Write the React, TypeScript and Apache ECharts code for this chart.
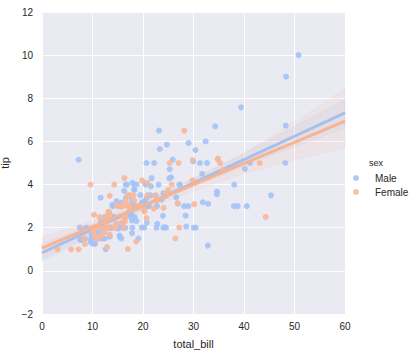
import React, { useEffect, useRef } from "react";
import * as echarts from "echarts";

// tips dataset: [total_bill, tip]
const maleData: number[][] = [
  [10.34,1.66],[21.01,3.5],[23.68,3.31],[25.29,4.71],[8.77,2.0],[26.88,3.12],[15.04,1.96],[14.78,3.23],[10.27,1.71],[15.42,1.57],
  [18.43,3.0],[21.58,3.92],[16.29,3.71],[20.65,3.35],[17.92,4.08],[39.42,7.58],[19.82,3.18],[17.81,2.34],[13.37,2.0],[12.69,2.0],
  [21.7,4.3],[9.55,1.45],[18.35,2.5],[17.78,3.27],[24.06,3.6],[16.31,2.0],[18.69,2.31],[31.27,5.0],[16.04,2.24],[17.46,2.54],
  [13.94,3.06],[9.68,1.32],[30.4,5.6],[18.29,3.0],[22.23,5.0],[32.4,6.0],[28.55,2.05],[18.04,3.0],[12.54,2.5],[9.94,1.56],
  [25.56,4.34],[19.49,3.51],[38.01,3.0],[11.24,1.76],[48.27,6.73],[20.29,3.21],[13.81,2.0],[11.02,1.98],[18.29,3.76],[17.59,2.64],
  [20.08,3.15],[20.23,2.01],[15.01,2.09],[12.02,1.97],[10.51,1.25],[17.92,3.08],[27.2,4.0],[22.76,3.0],[17.29,2.71],[19.44,3.0],
  [16.66,3.4],[32.68,5.0],[15.98,2.03],[13.03,2.0],[18.28,4.0],[24.71,5.85],[21.16,3.0],[28.97,3.0],[22.49,3.5],[40.17,4.73],
  [27.28,4.0],[12.03,1.5],[21.01,3.0],[12.46,1.5],[15.36,1.64],[20.49,4.06],[25.21,4.29],[18.24,3.76],[14.0,3.0],[38.07,4.0],
  [23.95,2.55],[29.93,5.07],[11.69,2.31],[14.26,2.5],[15.95,2.0],[8.52,1.48],[22.82,2.18],[19.08,1.5],[16.0,2.0],[34.3,6.7],
  [41.19,5.0],[9.78,1.73],[7.51,2.0],[14.07,2.5],[13.13,2.0],[17.26,2.74],[24.55,2.0],[19.77,2.0],[48.17,5.0],[16.49,2.0],
  [21.5,3.5],[12.66,2.5],[13.81,2.0],[24.52,3.48],[20.76,2.24],[31.71,4.5],[50.81,10.0],[15.81,3.16],[7.25,5.15],[31.85,3.18],
  [16.82,4.0],[32.9,3.11],[17.89,2.0],[14.48,2.0],[34.63,3.55],[34.65,3.68],[23.33,5.65],[45.35,3.5],[23.17,6.5],[40.55,3.0],
  [20.69,5.0],[30.46,2.0],[23.1,4.0],[15.69,1.5],[28.44,2.56],[15.48,2.02],[16.58,4.0],[7.56,1.44],[10.34,2.0],[13.51,2.0],
  [18.71,4.0],[20.53,4.0],[26.59,3.41],[38.73,3.0],[24.27,2.03],[30.06,2.0],[25.89,5.16],[48.33,9.0],[28.15,3.0],[11.59,1.5],
  [7.74,1.44],[12.16,2.2],[8.58,1.92],[13.42,1.58],[20.45,3.0],[13.28,2.72],[24.01,2.0],[15.69,3.0],[11.61,3.39],[10.77,1.47],
  [15.53,3.0],[10.07,1.25],[12.6,1.0],[32.83,1.17],[29.03,5.92],[22.67,2.0],[17.82,1.75]
];

const femaleData: number[][] = [
  [16.99,1.01],[24.59,3.61],[35.26,5.0],[14.83,3.02],[10.33,1.67],[16.97,3.5],[20.29,2.75],[15.77,2.23],[19.65,3.0],[15.06,3.0],
  [20.69,2.45],[16.93,3.07],[10.29,2.6],[34.81,5.2],[26.41,1.5],[16.45,2.47],[3.07,1.0],[17.07,3.0],[26.86,3.14],[25.28,5.0],
  [14.73,2.2],[10.07,1.83],[34.83,5.17],[5.75,1.0],[16.32,4.3],[22.75,3.25],[11.35,2.5],[15.38,3.0],[44.3,2.5],[22.42,3.48],
  [20.92,4.08],[14.31,4.0],[7.25,1.0],[25.71,4.0],[17.31,3.5],[10.65,1.5],[12.43,1.8],[24.08,2.92],[13.42,1.68],[12.48,2.52],
  [29.8,4.2],[14.52,2.0],[11.38,2.0],[20.27,2.83],[11.17,1.5],[12.26,2.0],[18.26,3.25],[8.51,1.25],[10.33,2.0],[14.15,2.0],
  [13.16,2.75],[17.47,3.5],[27.05,5.0],[16.43,2.3],[8.35,1.5],[18.64,1.36],[11.87,1.63],[29.85,5.14],[25.0,3.75],[13.39,2.61],
  [16.21,2.0],[17.51,3.0],[10.59,1.61],[10.63,2.0],[9.6,4.0],[20.9,3.5],[18.15,3.5],[19.81,4.19],[43.11,5.0],[13.0,2.0],
  [12.74,2.01],[13.0,2.0],[16.4,2.5],[16.47,3.23],[12.76,2.23],[13.27,2.5],[28.17,6.5],[12.9,1.1],[30.14,3.09],[13.42,3.48],
  [15.98,3.0],[16.27,2.5],[10.09,2.0],[22.12,2.88],[35.83,4.67],[27.18,2.0],[18.78,3.0]
];

// regression lines and confidence bands
const bandX = [0, 10, 20, 30, 40, 50, 60];
const maleFit = [0.84, 1.92, 3.0, 4.08, 5.16, 6.24, 7.32];
const maleLower = [0.42, 1.65, 2.85, 3.9, 4.85, 5.75, 6.6];
const maleUpper = [1.25, 2.2, 3.15, 4.25, 5.45, 6.7, 7.95];
const femaleFit = [1.06, 2.04, 3.02, 4.0, 4.98, 5.96, 6.94];
const femaleLower = [0.55, 1.75, 2.8, 3.7, 4.5, 5.15, 5.7];
const femaleUpper = [1.55, 2.35, 3.25, 4.3, 5.45, 6.9, 8.45];

const xTicks = [0, 10, 20, 30, 40, 50, 60];
const yTicks = [-2, 0, 2, 4, 6, 8, 10, 12];

const MALE = "#a4c3f6";
const FEMALE = "#f7b89b";
const MALE_LINE = "#9ec0f8";
const FEMALE_LINE = "#f8b393";

function bandSeries(name: string, lower: number[], upper: number[], color: string, z: number) {
  return {
    type: "custom",
    name,
    z,
    silent: true,
    data: [0],
    renderItem: (_params: any, api: any) => {
      const pts: number[][] = [];
      for (let i = 0; i < bandX.length; i++) pts.push(api.coord([bandX[i], upper[i]]));
      for (let i = bandX.length - 1; i >= 0; i--) pts.push(api.coord([bandX[i], lower[i]]));
      return {
        type: "polygon",
        shape: { points: pts },
        style: { fill: color, opacity: 0.12, stroke: "#c8a8a8", lineWidth: 0.8 },
      };
    },
  };
}

export default function App() {
  const ref = useRef<HTMLDivElement>(null);
  useEffect(() => {
    if (!ref.current) return;
    const chart = echarts.init(ref.current, null, { renderer: "svg" });
    const font = "'Liberation Sans', Arial, sans-serif";
    chart.setOption({
      animation: false,
      textStyle: { fontFamily: font },
      grid: {
        left: 42, right: 75, top: 12, bottom: 39,
        containLabel: false, outerBoundsMode: "none",
        show: true, backgroundColor: "#eaeaf2", borderWidth: 0,
      },
      xAxis: {
        type: "value", min: xTicks[0], max: xTicks[xTicks.length - 1], interval: 10,
        name: "total_bill", nameLocation: "middle", nameGap: 24,
        nameTextStyle: { color: "#262626", fontSize: 11, fontFamily: font },
        axisLine: { show: false }, axisTick: { show: false },
        axisLabel: { color: "#262626", fontSize: 10, margin: 7, fontFamily: font },
        splitLine: { show: true, lineStyle: { color: "#ffffff", width: 1 } },
      },
      yAxis: {
        type: "value", min: yTicks[0], max: yTicks[yTicks.length - 1], interval: 2,
        name: "tip", nameLocation: "middle", nameGap: 27,
        nameTextStyle: { color: "#262626", fontSize: 11, fontFamily: font },
        axisLine: { show: false }, axisTick: { show: false },
        axisLabel: {
          color: "#262626", fontSize: 10, margin: 9, fontFamily: font,
          formatter: (v: number) => (v < 0 ? "\u2212" + Math.abs(v) : String(v)),
        },
        splitLine: { show: true, lineStyle: { color: "#ffffff", width: 1 } },
      },
      legend: {
        orient: "vertical", left: 348, top: 168,
        icon: "circle", itemWidth: 24, itemHeight: 6, itemGap: 4,
        textStyle: { color: "#262626", fontSize: 10, fontFamily: font, padding: [0, 0, 0, 2] },
        data: ["Male", "Female"],
      },
      graphic: [
        { type: "text", left: 369, top: 158, style: { text: "sex", fill: "#262626", font: `9px ${font}` } },
      ],
      series: [
        {
          type: "scatter", name: "Male", data: maleData, symbolSize: 6, z: 2,
          itemStyle: { color: MALE, opacity: 0.9 },
        },
        {
          type: "line", name: "Male fit", data: bandX.map((x, i) => [x, maleFit[i]]), showSymbol: false, z: 3,
          lineStyle: { color: MALE_LINE, width: 3 }, itemStyle: { color: MALE_LINE },
        },
        bandSeries("Male CI", maleLower, maleUpper, MALE_LINE, 3),
        {
          type: "scatter", name: "Female", data: femaleData, symbolSize: 6, z: 4,
          itemStyle: { color: FEMALE, opacity: 0.9 },
        },
        {
          type: "line", name: "Female fit", data: bandX.map((x, i) => [x, femaleFit[i]]), showSymbol: false, z: 5,
          lineStyle: { color: FEMALE_LINE, width: 3 }, itemStyle: { color: FEMALE_LINE },
        },
        bandSeries("Female CI", femaleLower, femaleUpper, FEMALE_LINE, 5),
      ],
    });
    return () => chart.dispose();
  }, []);
  return <div ref={ref} style={{ position: "absolute", left: 0, top: 0, width: 420, height: 353 }} />;
}
